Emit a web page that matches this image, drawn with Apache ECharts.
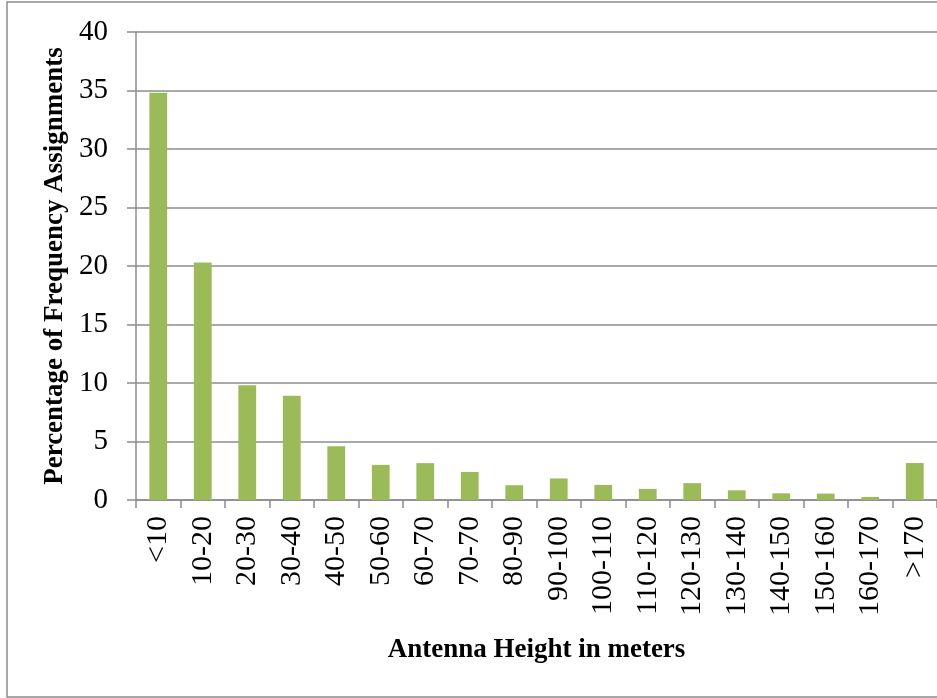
<!DOCTYPE html>
<html>
<head>
<meta charset="utf-8">
<script src="https://cdn.jsdelivr.net/npm/echarts@6/dist/echarts.min.js"></script>
<style>html,body{margin:0;padding:0;background:#fff}#c{width:937px;height:698px}</style>
</head>
<body>
<div id="c"></div>
<script>
var categories = ['<10','10-20','20-30','30-40','40-50','50-60','60-70','70-70','80-90','90-100','100-110','110-120','120-130','130-140','140-150','150-160','160-170','>170'];
var percentages = [34.8, 20.3, 9.8, 8.9, 4.6, 3.0, 3.15, 2.4, 1.26, 1.84, 1.29, 0.95, 1.44, 0.83, 0.57, 0.55, 0.26, 3.16];
var yTicks = {min: 0, max: 40, interval: 5};

var serif = '"Liberation Serif", "Times New Roman", serif';
var chart = echarts.init(document.getElementById('c'), null, {renderer: 'canvas'});
chart.setOption({
  animation: false,
  backgroundColor: '#ffffff',
  graphic: [{
    type: 'rect', silent: true, z: -1,
    shape: {x: 7, y: 2, width: 940, height: 695},
    style: {fill: 'none', stroke: '#8c8c8c', lineWidth: 1.5}
  }],
  grid: {left: 136, right: 0, top: 32, bottom: 198},
  xAxis: {
    type: 'category',
    data: categories,
    axisLine: {lineStyle: {color: '#8c8c8c', width: 1.5}},
    axisTick: {show: true, length: 8, lineStyle: {color: '#8c8c8c', width: 1.5}},
    axisLabel: {rotate: 90, margin: 16, interval: 0, color: '#000', fontFamily: serif, fontSize: 30},
    name: 'Antenna Height in meters',
    nameLocation: 'middle',
    nameGap: 137,
    nameTextStyle: {color: '#000', fontFamily: serif, fontSize: 27, fontWeight: 'bold'}
  },
  yAxis: {
    type: 'value',
    min: yTicks.min, max: yTicks.max, interval: yTicks.interval,
    axisLine: {show: true, lineStyle: {color: '#8c8c8c', width: 1.5}},
    axisTick: {show: true, length: 9, lineStyle: {color: '#8c8c8c', width: 1.5}},
    splitLine: {lineStyle: {color: '#8c8c8c', width: 1.5}},
    axisLabel: {margin: 28, color: '#000', fontFamily: serif, fontSize: 29},
    name: 'Percentage of Frequency Assignments',
    nameLocation: 'middle',
    nameGap: 66,
    nameTextStyle: {color: '#000', fontFamily: serif, fontSize: 27, fontWeight: 'bold'}
  },
  series: [{
    type: 'bar',
    data: percentages,
    barWidth: '40%',
    itemStyle: {color: '#9bbb59'}
  }]
});
</script>
</body>
</html>
